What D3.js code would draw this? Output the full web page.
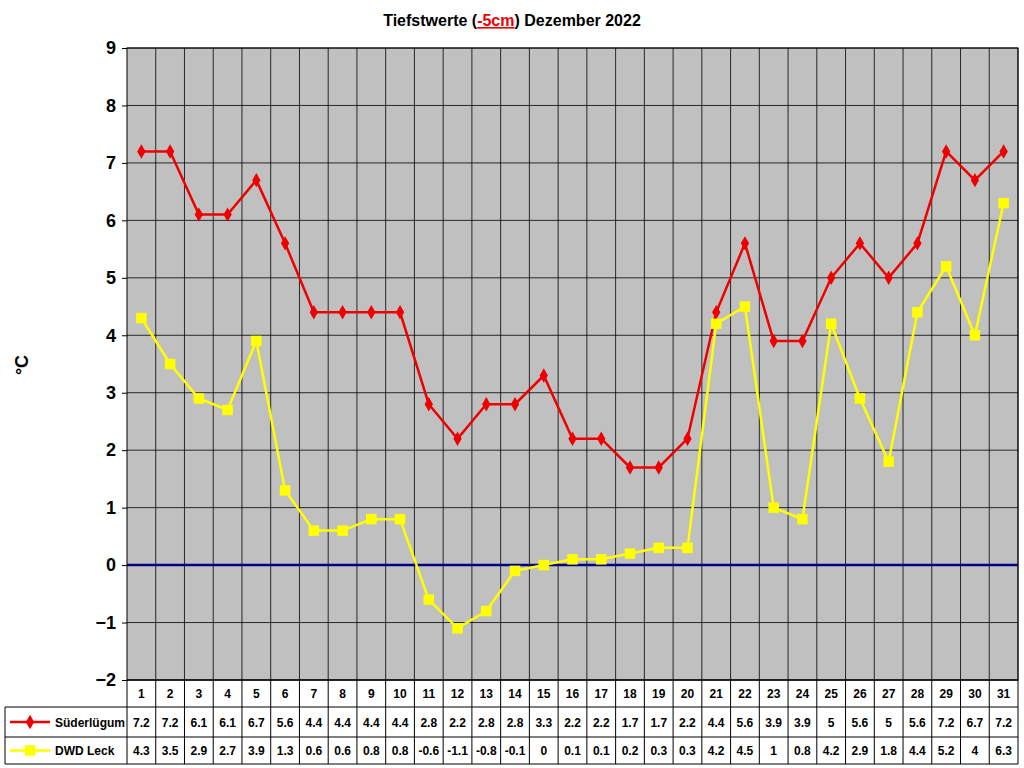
<!DOCTYPE html>
<html><head><meta charset="utf-8">
<script src="https://cdn.jsdelivr.net/npm/d3@7"></script>
<style>body{margin:0;background:#fff}text{font-family:"Liberation Sans",Arial,sans-serif}</style>
</head><body><svg id="c" width="1024" height="768"></svg>
<script>
const days=d3.range(1,32).map(String);
const sued=[7.2,7.2,6.1,6.1,6.7,5.6,4.4,4.4,4.4,4.4,2.8,2.2,2.8,2.8,3.3,2.2,2.2,1.7,1.7,2.2,4.4,5.6,3.9,3.9,5,5.6,5,5.6,7.2,6.7,7.2];
const dwd=[4.3,3.5,2.9,2.7,3.9,1.3,0.6,0.6,0.8,0.8,-0.6,-1.1,-0.8,-0.1,0,0.1,0.1,0.2,0.3,0.3,4.2,4.5,1,0.8,4.2,2.9,1.8,4.4,5.2,4,6.3];
const yTicks=d3.range(-2,10);
const series=[{name:"Süderlügum",vals:sued,color:"#ee0000",sym:d3.symbolDiamond,size:60},
              {name:"DWD Leck",vals:dwd,color:"#ffff00",sym:d3.symbolSquare,size:110}];
const svg=d3.select("#c");
const L=127,R=1018,T=48,B=680;
const x=d3.scaleBand().domain(days).range([L,R]);
const y=d3.scaleLinear().domain([-2,9]).range([B,T]);
svg.append("rect").attr("x",L).attr("y",T).attr("width",R-L).attr("height",B-T).attr("fill","#c0c0c0");
svg.append("g").selectAll("line").data(days).join("line")
 .attr("x1",d=>x(d)+x.bandwidth()).attr("x2",d=>x(d)+x.bandwidth()).attr("y1",T).attr("y2",B).attr("stroke","#000").attr("stroke-width",0.8);
svg.append("g").selectAll("line").data(yTicks).join("line")
 .attr("x1",L).attr("x2",R).attr("y1",d=>y(d)).attr("y2",d=>y(d)).attr("stroke","#000").attr("stroke-width",0.8);
svg.append("line").attr("x1",L).attr("x2",R).attr("y1",y(0)).attr("y2",y(0)).attr("stroke","#000080").attr("stroke-width",2.5);
svg.append("rect").attr("x",L).attr("y",T).attr("width",R-L).attr("height",B-T).attr("fill","none").attr("stroke","#000");
const ax=svg.append("g").attr("transform",`translate(${L},0)`).call(d3.axisLeft(y).tickValues(yTicks).tickSize(5).tickPadding(6));
ax.select(".domain").remove();
ax.selectAll("text").attr("font-size",18).attr("font-weight","bold").attr("font-family","Liberation Sans, Arial");
svg.append("text").attr("transform","translate(28,365) rotate(-90)").attr("text-anchor","middle").attr("font-size",18).attr("font-weight","bold").text("°C");
const cx=d=>x(d)+x.bandwidth()/2;
series.forEach(s=>{
 svg.append("path").datum(s.vals).attr("fill","none").attr("stroke",s.color).attr("stroke-width",2.5)
  .attr("d",d3.line().x((v,i)=>cx(days[i])).y(v=>y(v)));
 svg.append("g").selectAll("path").data(s.vals).join("path")
  .attr("d",d3.symbol().type(s.sym).size(s.size)).attr("fill",s.color)
  .attr("transform",(v,i)=>`translate(${cx(days[i])},${y(v)})`);
});
// table
const rows=[680,707,737,764];
const tg=svg.append("g");
rows.forEach((r,i)=>tg.append("line").attr("x1",i==0?L:5).attr("x2",R).attr("y1",r).attr("y2",r).attr("stroke","#000"));
tg.append("line").attr("x1",5).attr("x2",5).attr("y1",707).attr("y2",764).attr("stroke","#000");
days.forEach(d=>tg.append("line").attr("x1",x(d)).attr("x2",x(d)).attr("y1",680).attr("y2",764).attr("stroke","#000"));
tg.append("line").attr("x1",R).attr("x2",R).attr("y1",680).attr("y2",764).attr("stroke","#000");
tg.selectAll("text.d").data(days).join("text").attr("x",d=>cx(d)).attr("y",698).attr("text-anchor","middle").attr("font-size",12).attr("font-weight","bold").text(d=>d);
series.forEach((s,k)=>{
 const ry=(rows[k+1]+rows[k+2])/2;
 tg.append("line").attr("x1",10).attr("x2",50).attr("y1",ry).attr("y2",ry).attr("stroke",s.color).attr("stroke-width",2.5);
 tg.append("path").attr("d",d3.symbol().type(s.sym).size(s.size)).attr("fill",s.color).attr("transform",`translate(30,${ry})`);
 tg.append("text").attr("x",55).attr("y",ry+4.5).attr("font-size",12).attr("font-weight","bold").text(s.name);
 tg.selectAll("text.v"+k).data(s.vals).join("text").attr("x",(v,i)=>cx(days[i])).attr("y",ry+4.5).attr("text-anchor","middle").attr("font-size",12).attr("font-weight","bold").text(v=>v);
});
const t=svg.append("text").attr("x",512).attr("y",26).attr("text-anchor","middle").attr("font-size",16).attr("font-weight","bold");
t.append("tspan").text("Tiefstwerte (");
t.append("tspan").attr("fill","#ee0000").attr("text-decoration","underline").text("-5cm");
t.append("tspan").text(") Dezember 2022");
</script></body></html>
